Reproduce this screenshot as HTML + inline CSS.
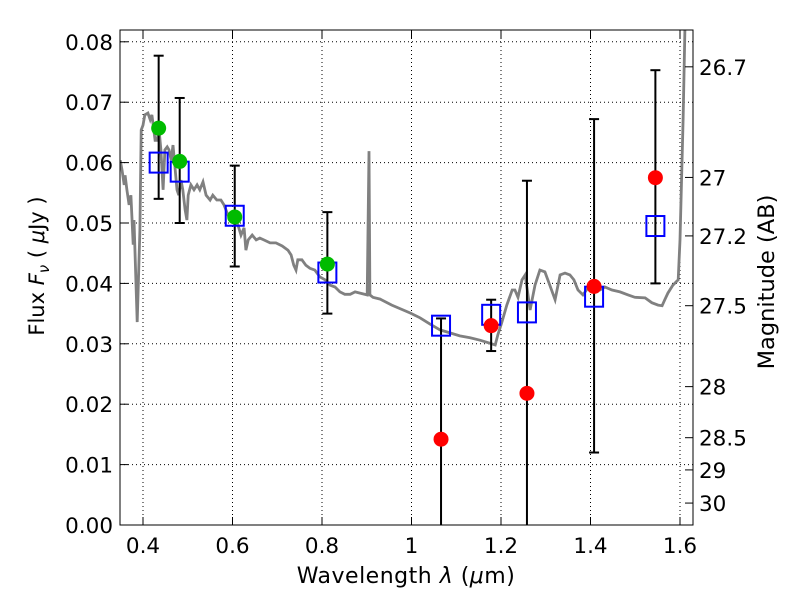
<!DOCTYPE html>
<html><head><meta charset="utf-8">
<style>body{margin:0;background:#fff}svg{display:block;font-family:"DejaVu Sans","Liberation Sans",sans-serif}</style>
</head><body>
<svg id="chart" width="800" height="600" viewBox="0 0 800 600">
<defs><clipPath id="clip"><rect x="120" y="30" width="573" height="495"/></clipPath></defs>
<g id="grid"></g>
<g id="spec" clip-path="url(#clip)"></g>
<g id="marks"></g>
<rect x="120" y="30" width="573" height="495" fill="none" stroke="#000" stroke-width="1"/>
<g id="ticks" font-size="21.5"></g>
<text x="406" y="583" font-size="22" text-anchor="middle" letter-spacing="0.5">Wavelength  <tspan font-style="italic">λ</tspan> (<tspan font-style="italic">μ</tspan>m)</text>
<text transform="translate(44,266) rotate(-90)" font-size="21" text-anchor="middle">Flux  <tspan font-style="italic">F</tspan><tspan font-style="italic" font-size="15" dy="5">ν</tspan><tspan dy="-5">  (  </tspan><tspan font-style="italic">μ</tspan>Jy )</text>
<text transform="translate(774,282) rotate(-90)" font-size="22.5" text-anchor="middle">Magnitude (AB)</text>
</svg>
<script>
const xTicks=[0.4,0.6,0.8,1.0,1.2,1.4,1.6];
const xTickLabels=["0.4","0.6","0.8","1","1.2","1.4","1.6"];
const yTicks=[0,0.01,0.02,0.03,0.04,0.05,0.06,0.07,0.08];
const yTickLabels=["0.00","0.01","0.02","0.03","0.04","0.05","0.06","0.07","0.08"];
const magTicks=[26.7,27,27.2,27.5,28,28.5,29,30];
const magTickLabels=["26.7","27","27.2","27.5","28","28.5","29","30"];
const specWl=[0.349,0.353,0.358,0.360,0.364,0.369,0.373,0.378,0.380,0.387,0.393,0.396,0.400,0.404,0.411,0.416,0.420,0.427,0.431,0.436,0.440,0.445,0.449,0.454,0.458,0.463,0.467,0.472,0.476,0.480,0.485,0.489,0.494,0.498,0.501,0.507,0.514,0.521,0.527,0.534,0.541,0.550,0.556,0.565,0.574,0.581,0.590,0.599,0.606,0.612,0.619,0.626,0.630,0.635,0.644,0.653,0.661,0.670,0.684,0.697,0.711,0.724,0.731,0.737,0.742,0.746,0.755,0.764,0.773,0.784,0.795,0.807,0.818,0.829,0.840,0.851,0.863,0.874,0.885,0.901,0.905,0.907,0.914,0.930,0.956,0.997,1.019,1.041,1.064,1.086,1.108,1.131,1.153,1.175,1.187,1.193,1.202,1.213,1.225,1.231,1.238,1.247,1.254,1.265,1.276,1.287,1.298,1.309,1.321,1.332,1.343,1.354,1.363,1.372,1.383,1.394,1.403,1.421,1.432,1.448,1.466,1.484,1.499,1.522,1.537,1.551,1.560,1.566,1.573,1.584,1.596,1.600,1.607,1.611];
const specFlux=[0.0604,0.0588,0.0563,0.0579,0.0555,0.0530,0.0546,0.0464,0.0505,0.0336,0.0488,0.0654,0.0662,0.0679,0.0682,0.0671,0.0679,0.0637,0.0637,0.0654,0.0621,0.0555,0.0621,0.0626,0.0621,0.0604,0.0629,0.0588,0.0555,0.0546,0.0571,0.0555,0.0522,0.0505,0.0546,0.0563,0.0555,0.0563,0.0555,0.0568,0.0546,0.0538,0.0546,0.0538,0.0538,0.0530,0.0513,0.0505,0.0497,0.0497,0.0480,0.0492,0.0455,0.0472,0.0480,0.0472,0.0475,0.0472,0.0467,0.0467,0.0462,0.0455,0.0447,0.0430,0.0422,0.0439,0.0439,0.0430,0.0425,0.0422,0.0411,0.0406,0.0397,0.0394,0.0386,0.0382,0.0382,0.0386,0.0384,0.0381,0.0619,0.0381,0.0377,0.0374,0.0364,0.0351,0.0343,0.0333,0.0323,0.0318,0.0313,0.0310,0.0306,0.0301,0.0298,0.0315,0.0336,0.0364,0.0389,0.0389,0.0377,0.0406,0.0414,0.0356,0.0397,0.0422,0.0419,0.0397,0.0373,0.0414,0.0417,0.0414,0.0406,0.0389,0.0381,0.0392,0.0389,0.0389,0.0394,0.0389,0.0386,0.0381,0.0377,0.0376,0.0368,0.0364,0.0363,0.0373,0.0384,0.0397,0.0406,0.0472,0.0671,0.0820];
const obsWl=[0.435,0.482,0.605,0.812,1.066,1.178,1.258,1.408,1.545];
const obsFlux=[0.0657,0.0602,0.0510,0.0432,0.0142,0.0330,0.0218,0.0395,0.0575];
const obsLow=[0.054,0.050,0.0428,0.035,-0.01,0.0288,-0.01,0.012,0.040];
const obsHigh=[0.0777,0.0707,0.0595,0.0518,0.0342,0.0373,0.057,0.0672,0.0753];
const obsDetected=[true,true,true,true,false,false,false,false,false];
const modelFlux=[0.060,0.0585,0.0512,0.0418,0.033,0.0348,0.0352,0.0378,0.0495];

const NS='http://www.w3.org/2000/svg';
const X=w=>143+(w-0.4)*447.5;
const Y=f=>525-f*6040;
const magToFlux=m=>Math.pow(10,(23.9-m)/2.5);
function mk(tag,attrs,parent,text){const e=document.createElementNS(NS,tag);for(const k in attrs)e.setAttribute(k,attrs[k]);if(text!==undefined)e.textContent=text;parent.appendChild(e);return e;}
const grid=document.getElementById('grid'),ticks=document.getElementById('ticks'),spec=document.getElementById('spec'),marks=document.getElementById('marks');
xTicks.forEach((v,i)=>{const x=X(v);
 const g=mk('line',{x1:x,x2:x,y1:30,y2:525,stroke:'#000','stroke-dasharray':'1,3','stroke-width':1},grid);
 
 mk('line',{x1:x,x2:x,y1:525,y2:517,stroke:'#000'},ticks);mk('line',{x1:x,x2:x,y1:30,y2:38,stroke:'#000'},ticks);
 const t=mk('text',{x:x,y:553,'text-anchor':'middle'},ticks,xTickLabels[i]);
 });
yTicks.forEach((v,i)=>{const y=Y(v);
 const g=mk('line',{x1:120,x2:693,y1:y,y2:y,stroke:'#000','stroke-dasharray':'1,3','stroke-width':1},grid);
 
 mk('line',{x1:120,x2:128,y1:y,y2:y,stroke:'#000'},ticks);
 const t=mk('text',{x:113,y:y+8,'text-anchor':'end'},ticks,yTickLabels[i]);
 });
magTicks.forEach((m,i)=>{const y=Y(magToFlux(m));
 mk('line',{x1:685,x2:693,y1:y,y2:y,stroke:'#000'},ticks);
 const t=mk('text',{x:699,y:y+8,'text-anchor':'start'},ticks,magTickLabels[i]);
 });
const p=mk('polyline',{points:specWl.map((w,i)=>X(w).toFixed(1)+','+Y(specFlux[i]).toFixed(1)).join(' '),fill:'none',stroke:'#808080','stroke-width':2.8},spec);

obsWl.forEach((w,i)=>{const x=X(w);
 const eb=mk('g',{},marks);
 
 const y1=Y(obsHigh[i]),y2=Math.min(Y(obsLow[i]),525);
 mk('line',{x1:x,x2:x,y1:y1,y2:y2,stroke:'#000','stroke-width':2},eb);
 mk('line',{x1:x-5,x2:x+5,y1:y1,y2:y1,stroke:'#000','stroke-width':2},eb);
 if(obsLow[i]>0)mk('line',{x1:x-5,x2:x+5,y1:y2,y2:y2,stroke:'#000','stroke-width':2},eb);
 const sq=mk('rect',{x:x-9,y:Y(modelFlux[i])-10,width:18,height:20,fill:'none',stroke:'#0000ff','stroke-width':2},marks);
 
 const c=mk('circle',{cx:x,cy:Y(obsFlux[i]),r:7.5,fill:obsDetected[i]?'#00bb00':'#ff0000'},marks);
 });
</script>
</body></html>
